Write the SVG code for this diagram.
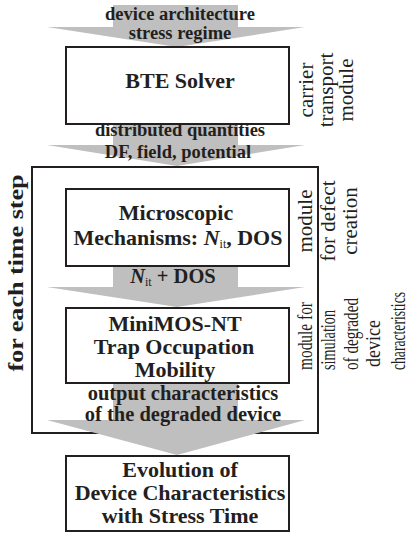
<svg xmlns="http://www.w3.org/2000/svg" width="411" height="533" viewBox="0 0 411 533">
<defs>
<style>
.box{fill:#fff;stroke:#231f20;stroke-width:2}
.frame{fill:none;stroke:#231f20;stroke-width:2}
.arrow{fill:#bfbfbf;stroke:none}
.t{font-family:"Liberation Serif","Times New Roman",serif;fill:#231f20}
.b{font-weight:bold}
.node{font-size:22px;text-anchor:middle}
.lbl{font-size:18.5px;text-anchor:middle}
.lbl2{font-size:20.5px;text-anchor:middle}
.side{font-size:21px;text-anchor:middle}
.side3{font-size:22px}
.sub{font-size:12px;font-weight:normal;font-style:normal}
.it{font-style:italic}
</style>
</defs>
<rect width="411" height="533" fill="#fff"/>
<g id="loop">
<rect class="frame" x="32" y="167" width="286" height="266"/>
<text class="t b" font-size="20" text-anchor="middle" textLength="197" lengthAdjust="spacingAndGlyphs" transform="translate(23,273) rotate(-90)">for each time step</text>
</g>
<g id="connectors">
<polygon class="arrow" points="113,5 238,5 238,27 305,27 177,47 47,27 113,27"/>
<polygon class="arrow" points="113,124 238,124 238,145 305,145 177,166 47,145 113,145"/>
<polygon class="arrow" points="113,266 238,266 238,287 305,287 177,307 47,287 113,287"/>
<polygon class="arrow" points="113,383 238,383 238,420 305,420 177,455 47,420 113,420"/>
<text class="t b lbl" x="180" y="20">device architecture</text>
<text class="t b lbl" x="180" y="39">stress regime</text>
<text class="t b lbl" x="180" y="136">distributed quantities</text>
<text class="t b lbl" x="178" y="158">DF, field, potential</text>
<text class="t b lbl2" x="173" y="283"><tspan class="it">N</tspan><tspan class="sub" dy="3">it</tspan><tspan dy="-3"> + DOS</tspan></text>
<text class="t b lbl2" x="183" y="400">output characteristics</text>
<text class="t b lbl2" x="183" y="421">of the degraded device</text>
</g>
<g id="bte">
<rect class="box" x="66" y="47" width="223" height="77"/>
<text class="t b node" x="180" y="88">BTE Solver</text>
<g class="t side">
<text transform="translate(313,90) rotate(-90)">carrier</text>
<text transform="translate(333,90) rotate(-90)">transport</text>
<text transform="translate(353,90) rotate(-90)">module</text>
</g>
</g>
<g id="microscopic">
<rect class="box" x="66" y="189" width="223" height="77"/>
<text class="t b node" x="176" y="220">Microscopic</text>
<text class="t b node" x="178" y="245">Mechanisms: <tspan class="it">N</tspan><tspan class="sub" dy="3">it</tspan><tspan dy="-3">, DOS</tspan></text>
<g class="t side">
<text transform="translate(312,221) rotate(-90)">module</text>
<text transform="translate(335,221) rotate(-90)">for defect</text>
<text transform="translate(357,221) rotate(-90)">creation</text>
</g>
</g>
<g id="minimos">
<rect class="box" x="66" y="308" width="223" height="75"/>
<text class="t b node" x="175" y="331">MiniMOS-NT</text>
<text class="t b node" x="174" y="354">Trap Occupation</text>
<text class="t b node" x="175" y="377">Mobility</text>
<g class="t side3">
<text textLength="68" lengthAdjust="spacingAndGlyphs" transform="translate(312,370) rotate(-90)">module for</text>
<text textLength="60" lengthAdjust="spacingAndGlyphs" transform="translate(335,370) rotate(-90)">simulation</text>
<text textLength="72" lengthAdjust="spacingAndGlyphs" transform="translate(358,370) rotate(-90)">of degraded</text>
<text textLength="47" lengthAdjust="spacingAndGlyphs" transform="translate(380,367) rotate(-90)">device</text>
<text textLength="78" lengthAdjust="spacingAndGlyphs" transform="translate(405,370) rotate(-90)">characteristics</text>
</g>
</g>
<g id="evolution">
<rect class="box" x="66" y="456" width="223" height="75"/>
<text class="t b node" x="180" y="477">Evolution of</text>
<text class="t b node" x="180" y="500">Device Characteristics</text>
<text class="t b node" x="180" y="523">with Stress Time</text>
</g>
</svg>
